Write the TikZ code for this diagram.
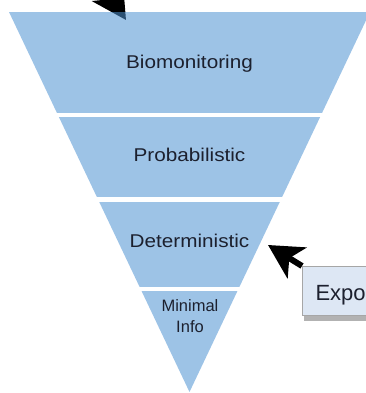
\documentclass[tikz,border=0pt]{standalone}
\usepackage{fontspec}
\setmainfont{Liberation Sans}
\usetikzlibrary{arrows.meta,shadows,backgrounds,positioning}
\definecolor{bandblue}{RGB}{77,146,210}
\definecolor{boxblue}{RGB}{221,231,244}
\definecolor{labelink}{RGB}{28,32,46}
\newcommand{\widetext}[1]{\scalebox{1.12}[1]{#1}}
\tikzset{
  band/.style={fill=bandblue, fill opacity=0.55},
  level/.style={font=\fontsize{18.5}{22}\selectfont, text=labelink, anchor=base, inner sep=0pt},
  smalllevel/.style={level, font=\fontsize{16.5}{20}\selectfont},
  bigarrow/.style={line width=6pt, -{Stealth[length=34pt,width=36pt,inset=9pt]}},
  expobox/.style={fill=boxblue, draw=gray!70, line width=1pt, text width=80pt, align=left,
    inner xsep=13pt, inner ysep=0pt, text height=34pt, text depth=15pt,
    font=\fontsize{22}{26}\selectfont, text=labelink,
    drop shadow={shadow xshift=1pt, shadow yshift=-5pt, opacity=0.3, fill=black}},
}

\begin{document}
\begin{tikzpicture}[x=1pt,y=-1pt]
\useasboundingbox (0,0) rectangle (366,393);
\clip (0,0) rectangle (366,393);
% arrow coming in from the top, partly under the funnel
\coordinate (tail1) at (84,-45);
\coordinate (tip1) at (126,20);
\draw[bigarrow] (tail1) -- (tip1);
% funnel bands
\begin{scope}
  \clip (9,12) -- (370,12) -- (189.5,392) -- cycle;
  \foreach \top/\bot in {12/113,117/197,202/287,291/392}
    \fill[band] (0,\top) rectangle (380,\bot);
\end{scope}
% labels
\node[level] (bio) at (189.5,69) {\widetext{Biomonitoring}};
\node[level] (prob) at (189.5,161) {\widetext{Probabilistic}};
\node[level] (det) at (189.5,247) {\widetext{Deterministic}};
\node[smalllevel] (minimal) at (190,311) {Minimal};
\node[smalllevel] (info) at (190,332) {Info};
% callout box
\node[expobox, anchor=north west] (expo) at (302,266) {Expo};
\coordinate (tip2) at (268,245);
\begin{scope}[on background layer]
  \draw[bigarrow] (expo.north west) -- (tip2);
\end{scope}
\end{tikzpicture}
\end{document}
